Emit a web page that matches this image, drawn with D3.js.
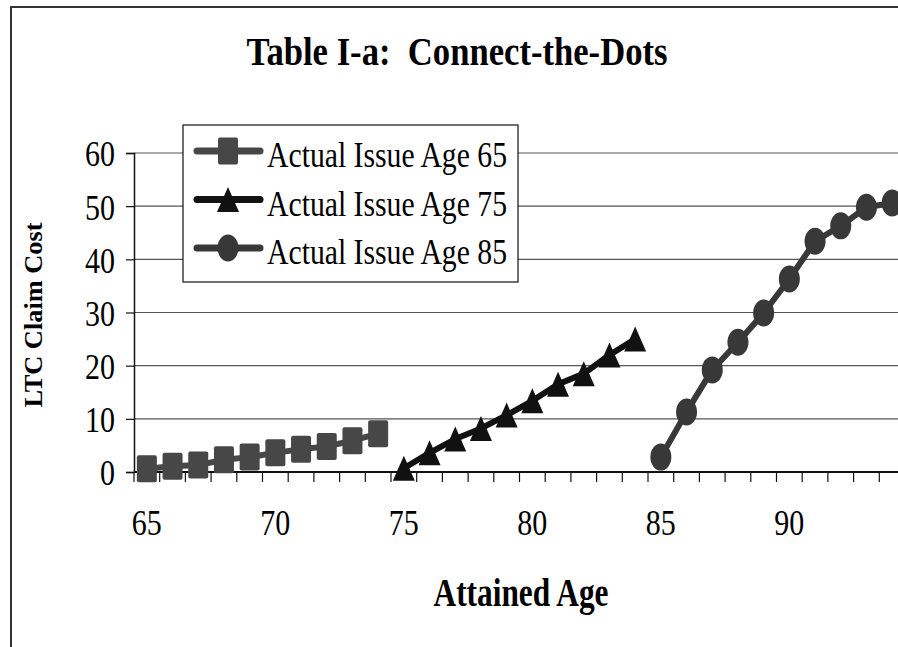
<!DOCTYPE html>
<html>
<head>
<meta charset="utf-8">
<script src="https://cdn.jsdelivr.net/npm/d3@7"></script>
<style>
  body { margin: 0; background: #fff; }
  text { font-family: "Liberation Serif", "Times New Roman", serif; fill: #000; }
</style>
</head>
<body>
<div id="chart"></div>
<script>
const width = 898
const height = 647

// Datos
const ages = [65, 66, 67, 68, 69, 70, 71, 72, 73, 74, 75, 76, 77, 78, 79,
  80, 81, 82, 83, 84, 85, 86, 87, 88, 89, 90, 91, 92, 93, 94]
const xTickLabels = [65, 70, 75, 80, 85, 90]
const yTicks = [0, 10, 20, 30, 40, 50, 60]
const seriesNames = ["Actual Issue Age 65", "Actual Issue Age 75", "Actual Issue Age 85"]

const ages65 = [65, 66, 67, 68, 69, 70, 71, 72, 73, 74]
const cost65 = [0.6, 1.1, 1.3, 2.3, 2.8, 3.6, 4.3, 4.8, 5.9, 7.2]
const ages75 = [75, 76, 77, 78, 79, 80, 81, 82, 83, 84]
const cost75 = [0.7, 3.6, 6.2, 8.2, 10.7, 13.4, 16.5, 18.5, 22.0, 25.0]
const ages85 = [85, 86, 87, 88, 89, 90, 91, 92, 93, 94]
const cost85 = [2.8, 11.3, 19.2, 24.4, 29.9, 36.3, 43.4, 46.3, 49.8, 50.6]

const plot = { left: 134, right: 905, top: 153, bottom: 472 }

const series = [
  { name: seriesNames[0], ages: ages65, values: cost65, color: "#474747", shape: "square" },
  { name: seriesNames[1], ages: ages75, values: cost75, color: "#111111", shape: "triangle" },
  { name: seriesNames[2], ages: ages85, values: cost85, color: "#383838", shape: "circle" },
]

const svg = d3.select("div#chart")
  .append("svg")
  .attr("width", width)
  .attr("height", height)

// marco exterior
svg.append("rect")
  .attr("x", 11).attr("y", 7)
  .attr("width", 1000).attr("height", 1000)
  .attr("fill", "none")
  .attr("stroke", "#333")
  .attr("stroke-width", 2)

// Escalas
const x = d3.scaleBand().domain(ages).range([plot.left, plot.right])
const y = d3.scaleLinear().domain([0, 60]).range([plot.bottom, plot.top])

// Grid
svg.append("g").attr("id", "grid")
  .selectAll("line").data(yTicks.filter(d => d > 0))
  .join("line")
  .attr("x1", plot.left).attr("x2", plot.right)
  .attr("y1", d => y(d)).attr("y2", d => y(d))
  .attr("stroke", "#555")
  .attr("stroke-width", 1.2)

// Eje Y
const yAxisGroup = svg.append("g")
  .attr("transform", `translate(${plot.left}, 0)`)
  .call(d3.axisLeft(y).tickValues(yTicks).tickSize(8).tickPadding(11))
yAxisGroup.select(".domain").attr("stroke", "#111").attr("stroke-width", 1.5)
yAxisGroup.selectAll(".tick line").attr("stroke", "#111").attr("stroke-width", 1.2)
yAxisGroup.selectAll("text")
  .attr("font-family", "Liberation Serif")
  .attr("font-size", 36)
  .attr("dy", "0.36em")
  .attr("textLength", d => String(d).length * 15)
  .attr("lengthAdjust", "spacingAndGlyphs")
  .attr("fill", "#000")

// Eje X: etiquetas cada 5 años, marcas entre categorias
const xAxisGroup = svg.append("g")
  .attr("transform", `translate(0, ${plot.bottom})`)
  .call(d3.axisBottom(x).tickValues(xTickLabels).tickSize(0).tickPadding(37))
xAxisGroup.select(".domain").remove()
xAxisGroup.selectAll("text")
  .attr("font-family", "Liberation Serif")
  .attr("font-size", 36)
  .attr("textLength", 30)
  .attr("lengthAdjust", "spacingAndGlyphs")
  .attr("fill", "#000")

const xBounds = ages.map(d => x(d)).concat([x(ages[ages.length - 1]) + x.bandwidth()])
xAxisGroup.selectAll("line.cat").data(xBounds)
  .join("line")
  .attr("class", "cat")
  .attr("x1", d => d).attr("x2", d => d)
  .attr("y1", 0).attr("y2", 10)
  .attr("stroke", "#111")
  .attr("stroke-width", 1.2)
xAxisGroup.append("line")
  .attr("x1", plot.left).attr("x2", plot.right)
  .attr("stroke", "#111")
  .attr("stroke-width", 1.8)

// Marcadores
function addMarker(group, shape, color) {
  if (shape === "square") {
    group.append("rect")
      .attr("x", -10).attr("y", -13.5)
      .attr("width", 20).attr("height", 27)
      .attr("rx", 2)
      .attr("fill", color)
  } else if (shape === "triangle") {
    group.append("path")
      .attr("d", "M0,-12.5L11,12.5L-11,12.5Z")
      .attr("fill", color)
  } else {
    group.append("ellipse")
      .attr("rx", 10.5).attr("ry", 13.5)
      .attr("fill", color)
  }
}

const cx = d => x(d) + x.bandwidth() / 2
const line = d3.line().x(d => cx(d[0])).y(d => y(d[1]))

const seriesGroup = svg.append("g").attr("id", "series")
series.forEach(s => {
  const pts = s.ages.map((a, i) => [a, s.values[i]])
  const g = seriesGroup.append("g")
  g.append("path")
    .datum(pts)
    .attr("d", line)
    .attr("fill", "none")
    .attr("stroke", s.color)
    .attr("stroke-width", 6)
    .attr("stroke-linejoin", "round")
    .attr("stroke-linecap", "round")
  g.selectAll("g.marker").data(pts)
    .join("g")
    .attr("class", "marker")
    .attr("transform", d => `translate(${cx(d[0])}, ${y(d[1])})`)
    .each(function () { addMarker(d3.select(this), s.shape, s.color) })
})

// Leyenda
const legend = svg.append("g").attr("id", "legend")
legend.append("rect")
  .attr("x", 183).attr("y", 125)
  .attr("width", 335).attr("height", 157)
  .attr("fill", "#fff")
  .attr("stroke", "#111")
  .attr("stroke-width", 1.2)

const legendItems = legend.selectAll("g.item").data(series)
  .join("g")
  .attr("class", "item")
  .attr("transform", (d, i) => `translate(0, ${151 + i * 48.5})`)
legendItems.append("line")
  .attr("x1", 197).attr("x2", 260)
  .attr("stroke", d => d.color)
  .attr("stroke-width", 7)
  .attr("stroke-linecap", "round")
legendItems.append("g")
  .attr("transform", "translate(228, 0)")
  .each(function (d) { addMarker(d3.select(this), d.shape, d.color) })
legendItems.append("text")
  .attr("x", 267).attr("y", 16)
  .attr("font-size", 36)
  .attr("textLength", 240)
  .attr("lengthAdjust", "spacingAndGlyphs")
  .text(d => d.name)

// Titulos
svg.append("text")
  .attr("x", 457).attr("y", 65)
  .attr("text-anchor", "middle")
  .attr("font-size", 39)
  .attr("font-weight", "bold")
  .attr("textLength", 421)
  .attr("lengthAdjust", "spacingAndGlyphs")
  .style("white-space", "pre")
  .text("Table I-a:  Connect-the-Dots")

svg.append("text")
  .attr("x", 521).attr("y", 606)
  .attr("text-anchor", "middle")
  .attr("font-size", 39)
  .attr("font-weight", "bold")
  .attr("textLength", 175)
  .attr("lengthAdjust", "spacingAndGlyphs")
  .text("Attained Age")

svg.append("text")
  .attr("transform", "translate(42, 315) rotate(-90)")
  .attr("text-anchor", "middle")
  .attr("font-size", 26)
  .attr("font-weight", "bold")
  .attr("textLength", 185)
  .attr("lengthAdjust", "spacingAndGlyphs")
  .text("LTC Claim Cost")
</script>
</body>
</html>
